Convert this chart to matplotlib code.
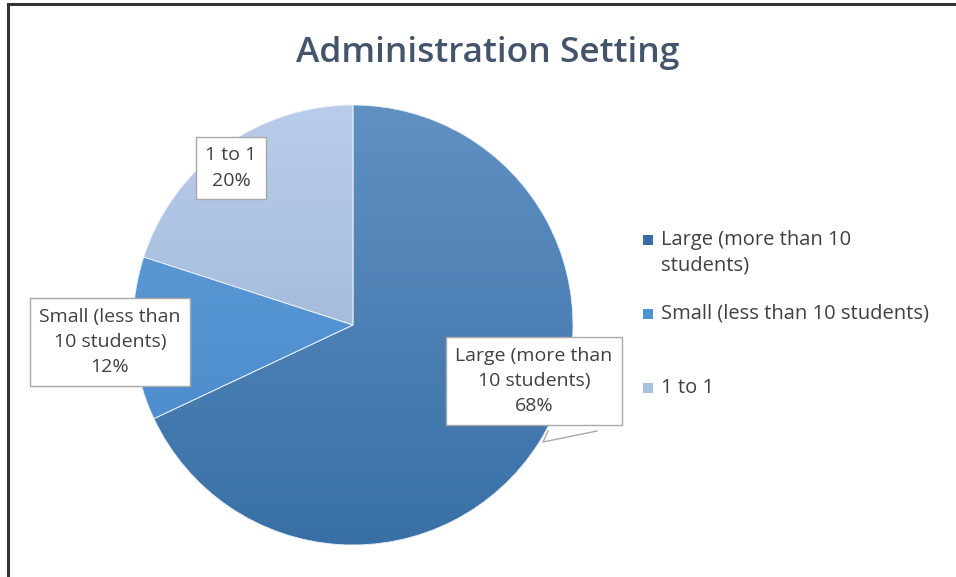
import numpy as np
import matplotlib.pyplot as plt
from matplotlib.colors import LinearSegmentedColormap
from matplotlib.patches import Rectangle, Polygon

title = 'Administration Setting'
categories = ['Large (more than 10 students)', 'Small (less than 10 students)', '1 to 1']
values = [68, 12, 20]
legend_labels = ['Large (more than 10\nstudents)', 'Small (less than 10 students)', '1 to 1']
box_labels = ['Large (more than\n10 students)\n68%', 'Small (less than\n10 students)\n12%', '1 to 1\n20%']
top_colors = ['#6190c2', '#62a0da', '#b8cde9']
bottom_colors = ['#3870a6', '#4686c8', '#93acd2']

W, H = 956, 577
plt.rcParams['font.family'] = ['Open Sans', 'DejaVu Sans']
txt_color = '#404040'

fig = plt.figure(figsize=(W / 100, H / 100), dpi=100)
ax = fig.add_axes([0, 0, 1, 1])

# pie geometry in pixel coords (y flipped)
cx, cy, r = 353, H - 325, 220
wedges, _ = ax.pie(values, startangle=90, counterclock=False, center=(cx, cy),
                   radius=r, frame=True,
                   wedgeprops=dict(edgecolor='#e8eef6', linewidth=0.6))

# vertical gradient fill like the excel style
grad = np.linspace(0, 1, 256).reshape(-1, 1)
for w, ct, cb in zip(wedges, top_colors, bottom_colors):
    cmap = LinearSegmentedColormap.from_list('g', [cb, ct])
    im = ax.imshow(grad, extent=(cx - r, cx + r, cy - r, cy + r), origin='lower',
                   cmap=cmap, aspect='auto', zorder=0.5, interpolation='bilinear')
    im.set_clip_path(w)
    w.set_facecolor('none')
    w.set_zorder(1)

# data labels
box_pos = [(534, 381), (110, 342), (231, 168)]
for (bx, by), lab in zip(box_pos, box_labels):
    ax.text(bx, H - by, lab, ha='center', va='center', fontsize=14, color=txt_color,
            linespacing=1.5, zorder=5,
            bbox=dict(boxstyle='square,pad=0.5', fc='white', ec='#a8a8a8', lw=1))

# callout tail of the large label
tail = Polygon([(548, H - 429), (597, H - 429), (543, H - 442)], closed=True,
               fc='white', ec='none', zorder=6)
ax.add_patch(tail)
ax.plot([597, 543, 548], [H - 431, H - 442, H - 431], color='#a8a8a8', lw=1, zorder=7)

# legend
leg_y = [240, 314, 388]
for yy, lab, c in zip(leg_y, legend_labels, [bottom_colors[0], '#4f92d2', '#a9c0e0']):
    ax.add_patch(Rectangle((643, H - yy - 5), 10, 10, fc=c, ec='none', zorder=3))
    ax.text(661, H - yy + (10 if '\n' in lab else 0), lab, ha='left',
            va='top' if '\n' in lab else 'center',
            fontsize=14.5, color=txt_color, linespacing=1.4, zorder=3)

# title
ax.text(488, H - 53, title, ha='center', va='center', fontsize=25.5,
        fontweight='semibold', color='#44546a')

# chart frame (only top and left visible)
ax.plot([8, W], [H - 4, H - 4], color='#333333', lw=2.2, zorder=8)
ax.plot([8, 8], [H - 4, 0], color='#333333', lw=2.2, zorder=8)

ax.set_xlim(0, W)
ax.set_ylim(0, H)
ax.set_aspect('auto')
ax.axis('off')

fig.savefig('out.png', dpi=100)
